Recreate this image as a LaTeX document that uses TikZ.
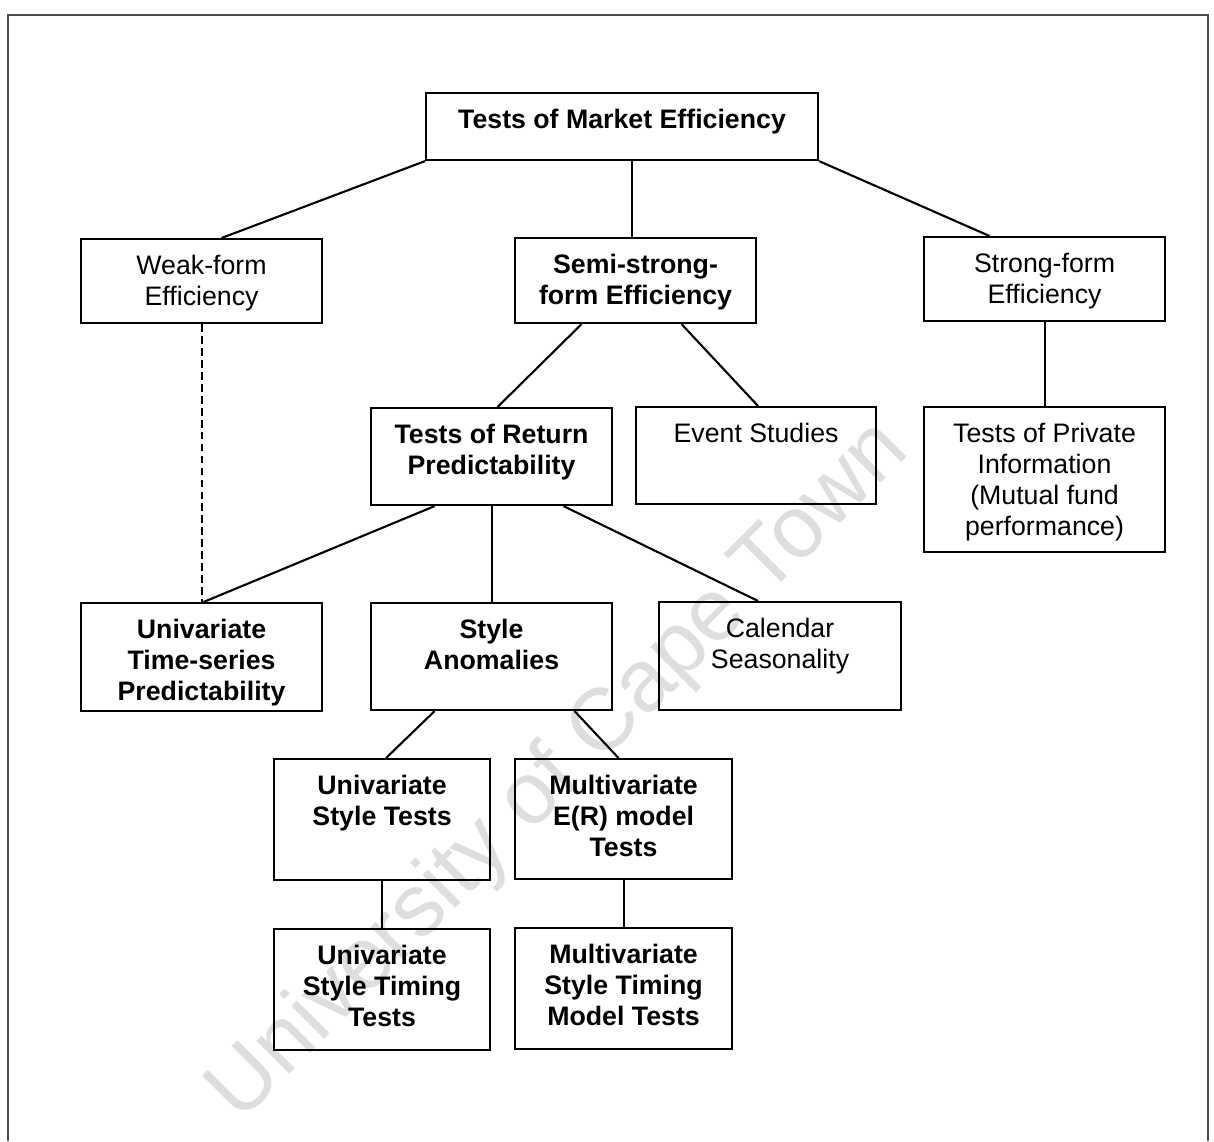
\documentclass[tikz,border=0pt]{standalone}
\usepackage{fontspec}
\setmainfont{Liberation Sans}
\usetikzlibrary{calc}

\newlength{\px}
\setlength{\px}{0.01cm}
% box text: width, height (in px), lines
\newcommand{\boxtext}[3]{\parbox[t][#2\px][t]{#1\px}{\centering\rule{0pt}{10.1pt}#3}}

\begin{document}
\begin{tikzpicture}
		[x=0.01cm,y=-0.01cm,
		 box/.style={draw,line width=0.6pt,inner sep=0pt,anchor=north west,font=\fontsize{7.6}{8.8}\selectfont},
		 bbox/.style={box,font=\fontsize{7.6}{8.8}\selectfont\bfseries},
		 link/.style={line width=0.6pt}]
		\useasboundingbox (0,0) rectangle (1214,1141);
		\node[rotate=45,text=black!13,font=\fontsize{25}{30}\selectfont] (wm) at (560,772) {University of Cape Town};
		\draw[line width=0.7pt,black!70] (8,1141) -- (8,15) -- (1208,15) -- (1208,1141);

		\node[bbox] (mkt) at (425,92) {\boxtext{392}{67}{Tests of Market Efficiency}};
		\node[box] (weak) at (80,238) {\boxtext{241}{84}{Weak-form\\Efficiency}};
		\node[bbox] (semi) at (514,237) {\boxtext{241}{85}{Semi-strong-\\form Efficiency}};
		\node[box] (strong) at (923,236) {\boxtext{241}{84}{Strong-form\\Efficiency}};
		\node[bbox] (ret) at (370,407) {\boxtext{241}{97}{Tests of Return\\Predictability}};
		\node[box] (event) at (635,406) {\boxtext{240}{97}{Event Studies}};
		\node[box] (priv) at (923,406) {\boxtext{241}{145}{Tests of Private\\Information\\(Mutual fund\\performance)}};
		\node[bbox] (uts) at (80,602) {\boxtext{241}{108}{Univariate\\Time-series\\Predictability}};
		\node[bbox] (style) at (370,602) {\boxtext{241}{107}{Style\\Anomalies}};
		\node[box] (cal) at (658,601) {\boxtext{242}{108}{Calendar\\Seasonality}};
		\node[bbox] (ust) at (273,758) {\boxtext{216}{121}{Univariate\\Style Tests}};
		\node[bbox] (mer) at (514,758) {\boxtext{217}{120}{Multivariate\\E(R) model\\Tests}};
		\node[bbox] (ustt) at (273,928) {\boxtext{216}{121}{Univariate\\Style Timing\\Tests}};
		\node[bbox] (mst) at (514,927) {\boxtext{217}{121}{Multivariate\\Style Timing\\Model Tests}};

		\draw[link] (mkt.south west) -- ($(weak.north)+(20,0)$);
		\draw[link] ($(semi.north)+(-4,0)$) coordinate (c1) -- (c1 |- mkt.south);
		\draw[link] (mkt.south east) -- ($(strong.north)+(-55,0)$);
		\draw[link] ($(semi.south)+(-54,0)$) -- ($(ret.north)+(6,0)$);
		\draw[link] ($(semi.south)+(46,0)$) -- ($(event.north)+(2,0)$);
		\draw[link] (strong.south) -- (priv.north);
		\draw[link,dash pattern=on 2.2pt off 1.2pt] (weak.south) -- (uts.north);
		\draw[link] ($(ret.south)+(-57,0)$) -- ($(uts.north)+(2,0)$);
		\draw[link] (ret.south) -- (style.north);
		\draw[link] ($(ret.south)+(72,0)$) -- ($(cal.north)+(-22,0)$);
		\draw[link] ($(style.south)+(-57,0)$) -- ($(ust.north)+(4,0)$);
		\draw[link] ($(style.south)+(83,0)$) -- ($(mer.north)+(-5,0)$);
		\draw[link] (ust.south) -- (ustt.north);
		\draw[link] (mer.south) -- (mst.north);

	\end{tikzpicture}
\end{document}
